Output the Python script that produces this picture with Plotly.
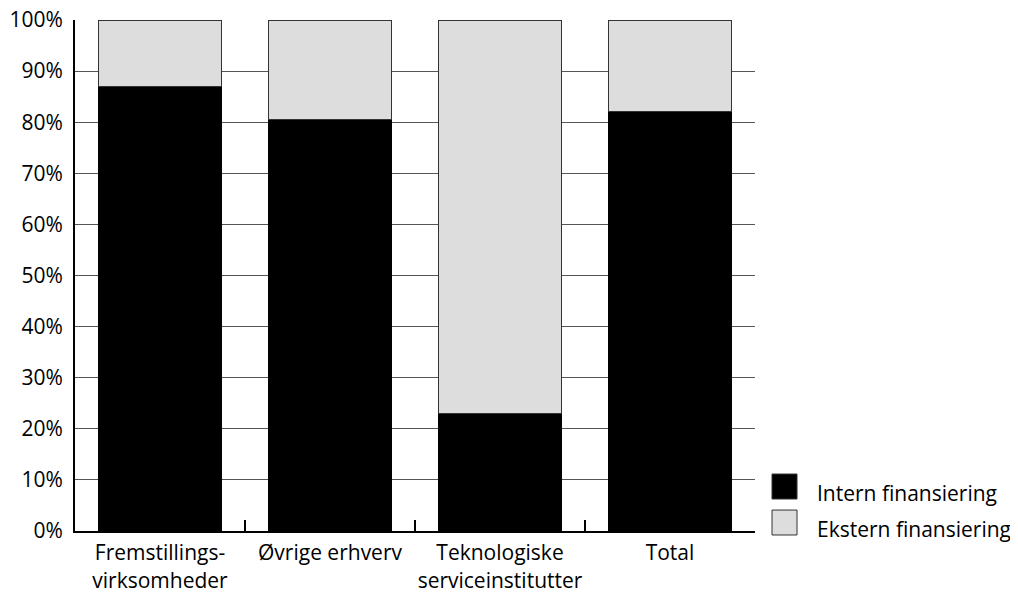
import plotly.graph_objects as go

categories = ["Fremstillings-<br>virksomheder", "Øvrige erhverv", "Teknologiske<br>serviceinstitutter", "Total"]
intern = [87, 80.5, 23, 82]
ekstern = [13, 19.5, 77, 18]
series_names = ["Intern finansiering", "Ekstern finansiering"]
series_colors = ["#000000", "#dddddd"]
y_ticks = [0, 10, 20, 30, 40, 50, 60, 70, 80, 90, 100]
y_ticklabels = [f"{v}%" for v in y_ticks]

FONT = "Open Sans"
FS = 21

fig = go.Figure()
fig.add_trace(go.Bar(x=categories, y=intern, name=series_names[0], showlegend=False,
                     marker=dict(color=series_colors[0], line=dict(color="#000000", width=1))))
fig.add_trace(go.Bar(x=categories, y=ekstern, name=series_names[1], showlegend=False,
                     marker=dict(color=series_colors[1], line=dict(color="#333333", width=1))))

# legend drawn as shapes + text (larger swatches as in reference)
legend_rows = [(0.0626, 0.1115, 0.0744), (-0.0078, 0.041, 0.004)]
for (y0, y1, yt), name, col in zip(legend_rows, series_names, series_colors):
    fig.add_shape(type="rect", xref="paper", yref="paper", x0=1.025, x1=1.0618, y0=y0, y1=y1,
                  fillcolor=col, line=dict(color="#333333", width=1))
    fig.add_annotation(xref="paper", yref="paper", x=1.088, y=yt, text=name, showarrow=False,
                       xanchor="left", yanchor="middle", font=dict(family=FONT, size=FS, color="#000"))

# the page body has an 8px margin, so the figure is sized/offset to compensate
fig.update_layout(
    barmode="stack",
    bargap=0.28,
    width=1010, height=584,
    margin=dict(l=67, r=263, t=12, b=61),
    plot_bgcolor="white", paper_bgcolor="white",
    font=dict(family=FONT, size=FS, color="#000000"),
    showlegend=False,
)
fig.update_xaxes(
    type="category", showline=True, linecolor="#000000", linewidth=2,
    ticks="inside", tickson="boundaries", ticklen=11, tickcolor="#000000", tickwidth=2,
    showgrid=False, tickfont=dict(size=FS), automargin=False, ticklabelstandoff=2,
    tickangle=0, ticklabeloverflow="allow",
)
fig.update_yaxes(
    range=[0, 100], tickvals=y_ticks, ticktext=y_ticklabels,
    showline=True, linecolor="#000000", linewidth=2,
    showgrid=True, gridcolor="#555555", gridwidth=1,
    ticks="", zeroline=False, tickfont=dict(size=FS), automargin=False, ticklabelstandoff=6,
    ticklabeloverflow="allow",
)

fig.write_html("out.html")
